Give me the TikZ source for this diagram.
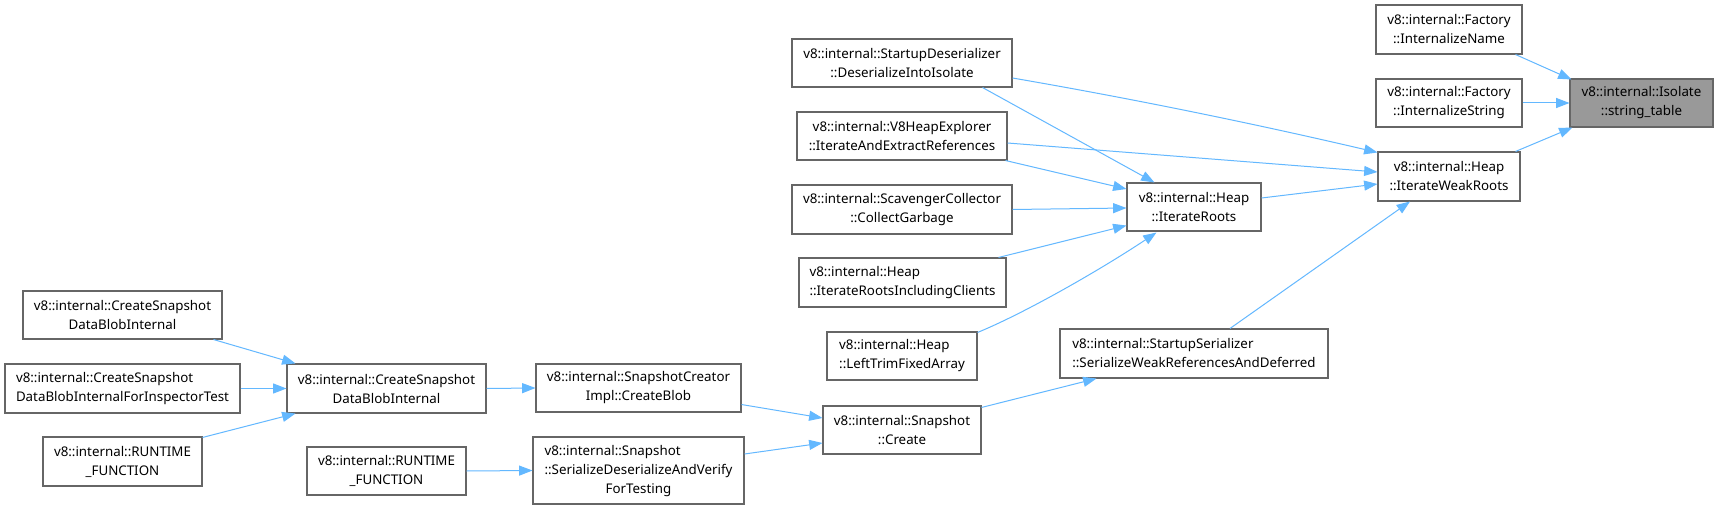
\documentclass[tikz,border=0pt]{standalone}
\usepackage{fontspec}
\setmainfont{Noto Sans}
\usetikzlibrary{arrows.meta,calc}
\definecolor{edgeblue}{HTML}{63B8FF}
\definecolor{boxgray}{HTML}{666666}
\definecolor{selfill}{HTML}{999999}
\tikzset{
  gbox/.style={draw=boxgray, fill=white, line width=0.8pt, inner sep=0pt, align=center,
    font={\fontsize{10}{14.25}\selectfont}},
  gsel/.style={fill=selfill},
  gleft/.style={align=left},
  gedge/.style={draw=edgeblue, line width=0.75pt, -{Triangle[length=10pt,width=7.5pt]}}
}
\newcommand{\gnode}[7][]{\node[gbox,#1,minimum width={(#4-#2)*0.75pt},minimum height={(#5-#3)*0.75pt}] (#6) at ({(#2+#4)/2},{(#3+#5)/2}) {#7};}
\begin{document}
\begin{tikzpicture}[x=0.75pt,y=-0.75pt]
\fill[white] (0,0) rectangle (1718,510);
\useasboundingbox (0,0) rectangle (1718,510);
% nodes
\gnode{1376}{5}{1522}{54}{sname}{v8::internal::Factory\\::InternalizeName}
\gnode{1376}{79}{1522}{127}{sstr}{v8::internal::Factory\\::InternalizeString}
\gnode[gsel]{1570}{79}{1713}{127}{tab}{v8::internal::Isolate\\::string\_table}
\gnode{1378}{152}{1520}{201}{iwr}{v8::internal::Heap\\::IterateWeakRoots}
\gnode{792}{39}{1012}{87}{sd}{v8::internal::StartupDeserializer\\::DeserializeIntoIsolate}
\gnode{797}{112}{1007}{160}{hex}{v8::internal::V8HeapExplorer\\::IterateAndExtractReferences}
\gnode{792}{185}{1012}{234}{scav}{v8::internal::ScavengerCollector\\::CollectGarbage}
\gnode{1127}{183}{1261}{231}{ir}{v8::internal::Heap\\::IterateRoots}
\gnode[gleft]{799}{258}{1006}{307}{iric}{v8::internal::Heap\\::IterateRootsIncludingClients}
\gnode[gleft]{827}{332}{977}{380}{ltfa}{v8::internal::Heap\\::LeftTrimFixedArray}
\gnode[gleft]{1060}{329}{1328}{378}{ss}{v8::internal::StartupSerializer\\::SerializeWeakReferencesAndDeferred}
\gnode{823}{406}{981}{454}{create}{v8::internal::Snapshot\\::Create}
\gnode{536}{364}{741}{412}{sci}{v8::internal::SnapshotCreator\\Impl::CreateBlob}
\gnode{533}{437}{744}{504}{sdv}{\begin{tabular}{@{}l@{}}v8::internal::Snapshot\\::SerializeDeserializeAndVerify\\\multicolumn{1}{@{}c@{}}{ForTesting}\end{tabular}}
\gnode{287}{364}{486}{413}{csdbi}{v8::internal::CreateSnapshot\\DataBlobInternal}
\gnode{307}{447}{466}{495}{rftwo}{v8::internal::RUNTIME\\\_FUNCTION}
\gnode{23}{291}{222}{339}{csdbil}{v8::internal::CreateSnapshot\\DataBlobInternal}
\gnode[gleft]{5}{364}{240}{413}{csdbifit}{v8::internal::CreateSnapshot\\DataBlobInternalForInspectorTest}
\gnode{43}{437}{202}{486}{rfone}{v8::internal::RUNTIME\\\_FUNCTION}
% edges
\draw[gedge] ($(sname.south east)+(-7,0)$) -- ($(tab.north west)+(2,1)$);
\draw[gedge] (sstr.east) -- (tab.west);
\draw[gedge] ($(iwr.north east)+(-5,0)$) -- ($(tab.south west)+(3,0)$);
\draw[gedge] ($(sd.east)+(0,15)$) .. controls (1140,100) and (1260,125) .. ($(iwr.north west)+(0,1)$);
\draw[gedge] ($(sd.south east)+(-30,0)$) -- ($(ir.north west)+(28,0)$);
\draw[gedge] ($(hex.east)+(0,7)$) -- ($(iwr.west)+(0,-4.5)$);
\draw[gedge] ($(hex.south east)+(-2,0)$) -- ($(ir.west)+(0,-18)$);
\draw[gedge] (scav.east) -- ($(ir.west)+(0,1)$);
\draw[gedge] ($(ir.east)+(0,-9)$) -- ($(iwr.west)+(0,7.5)$);
\draw[gedge] ($(iric.north east)+(-8,0)$) -- ($(ir.south west)+(0,-6)$);
\draw[gedge] ($(ltfa.north east)+(0,1)$) .. controls (1025,313) and (1100,270) .. ($(ir.south west)+(30,1)$);
\draw[gedge] ($(ss.north)+(36,0)$) -- ($(iwr.south)+(-39,0)$);
\draw[gedge] ($(create.north east)+(0,2)$) -- ($(ss.south west)+(37,0)$);
\draw[gedge] ($(sci.south east)+(0,-8)$) -- ($(create.west)+(0,-12)$);
\draw[gedge] ($(sdv.east)+(0,-16.5)$) -- ($(create.west)+(0,13)$);
\draw[gedge] (csdbi.east) -- (sci.west);
\draw[gedge] (rftwo.east) -- (sdv.west);
\draw[gedge] ($(csdbil.south east)+(-9,0)$) -- ($(csdbi.north west)+(9,0)$);
\draw[gedge] (csdbifit.east) -- (csdbi.west);
\draw[gedge] ($(rfone.north east)+(0,1)$) -- ($(csdbi.south west)+(9,0)$);
\end{tikzpicture}
\end{document}
